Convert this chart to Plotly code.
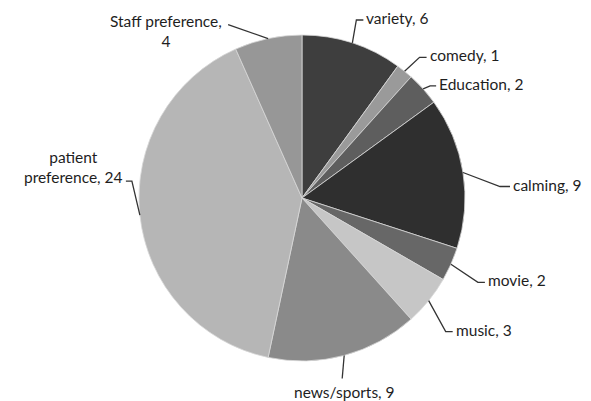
import math
import plotly.graph_objects as go

labels = ["variety", "comedy", "Education", "calming", "movie", "music",
          "news/sports", "patient preference", "Staff preference"]
values = [6, 1, 2, 9, 2, 3, 9, 24, 4]
colors = ["#3e3e3e", "#9a9a9a", "#5e5e5e", "#2f2f2f", "#676767", "#c6c6c6",
          "#8a8a8a", "#b6b6b6", "#979797"]
label_text = ["variety, 6", "comedy, 1", "Education, 2", "calming, 9", "movie, 2",
              "music, 3", "news/sports, 9", "patient<br>preference, 24",
              "Staff preference,<br>4"]

W, H = 591, 401
CX, CY, R = 302, 198, 163

# leader-line styling: (elbow dx, elbow dy, horizontal run, text anchor)
leader = [
    (4, -23, 7, "left"),
    (15, -14, 7, "left"),
    (7, -3, 6, "left"),
    (37, 14, 10, "left"),
    (27, 18, 7, "left"),
    (17, 31, 7, "left"),
    (-2, 23, 0, "center"),
    (-8, -34, -6, "right"),
    (-40, -14, 0, "center"),
]

def px(x):
    return x / W

def py(y):
    return 1 - y / H

fig = go.Figure(go.Pie(
    labels=labels, values=values, sort=False, direction="clockwise",
    rotation=0, textinfo="none", hoverinfo="label+value",
    marker=dict(colors=colors, line=dict(color="#d8d8d8", width=0.8)),
    domain=dict(x=[px(CX - R), px(CX + R)], y=[py(CY + R), py(CY - R)]),
    showlegend=False,
))

total = sum(values)
cum = 0
shapes, annotations = [], []
for i, v in enumerate(values):
    mid = (cum + v / 2) / total * 2 * math.pi
    cum += v
    ex = CX + R * math.sin(mid)
    ey = CY - R * math.cos(mid)
    dx, dy, run, anchor = leader[i]
    bx, by = ex + dx, ey + dy
    fx, fy = bx + run, by
    shapes.append(dict(type="path", xref="paper", yref="paper",
                       path=f"M {px(ex)},{py(ey)} L {px(bx)},{py(by)} L {px(fx)},{py(fy)}",
                       line=dict(color="#333333", width=1.3)))
    if anchor == "left":
        tx, ty, xa, ya, al = fx + 1, fy - 2, "left", "middle", "left"
    elif anchor == "right":
        tx, ty, xa, ya, al = fx - 1, fy - 14, "right", "middle", "center"
    elif i == 6:
        tx, ty, xa, ya, al = fx + 2, fy + 14, "center", "middle", "center"
    else:
        tx, ty, xa, ya, al = fx - 62, fy + 6, "center", "middle", "center"
    annotations.append(dict(x=px(tx), y=py(ty), xref="paper", yref="paper",
                            text=label_text[i], showarrow=False,
                            xanchor=xa, yanchor=ya, align=al,
                            font=dict(family="Lato", size=15.5, color="#1e1e1e")))

fig.update_layout(width=W, height=H, margin=dict(l=0, r=0, t=0, b=0),
                  paper_bgcolor="white", plot_bgcolor="white",
                  shapes=shapes, annotations=annotations)
fig.write_html("out.html", config={"displayModeBar": False},
               post_script="document.body.style.margin='0';document.body.style.overflow='hidden';")
